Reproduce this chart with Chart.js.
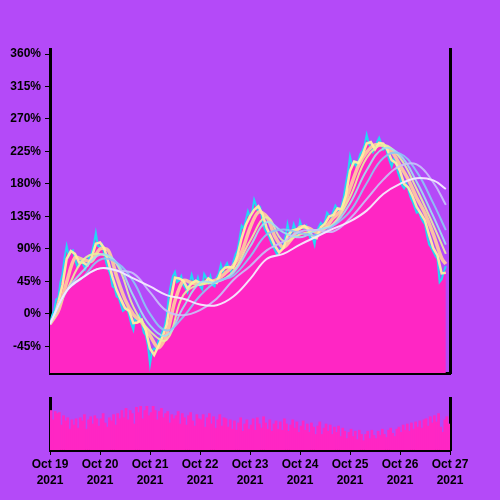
<!DOCTYPE html>
<html>
<head>
<meta charset="utf-8">
<script src="https://cdn.jsdelivr.net/npm/chart.js@4.4.1/dist/chart.umd.min.js"></script>
<style>
  body { margin: 0; background: #b44af8; }
  canvas { position: absolute; left: 0; }
  #priceChart { top: 0; }
  #volumeChart { top: 380px; }
</style>
</head>
<body>
<canvas id="priceChart" width="500" height="380"></canvas>
<canvas id="volumeChart" width="500" height="120"></canvas>
<script>
// x values are hours since Oct 19 00:00
const dayLabels = ["Oct 19", "Oct 20", "Oct 21", "Oct 22", "Oct 23", "Oct 24", "Oct 25", "Oct 26", "Oct 27"];
const yearLabel = "2021";
const yTicks = [-45, 0, 45, 90, 135, 180, 225, 270, 315, 360];

// price change %, hourly (hour 0 .. 190)
const price = [
  -14, -2, 5, 20, 22, 44, 55, 78, 94, 80, 86, 88, 76, 66, 70, 76, 68, 62, 70, 80,
  84, 96, 112, 94, 92, 96, 84, 70, 62, 54, 38, 36, 24, 22, 13, 4, 6, 8, -2, -14,
  -22, -4, -10, -2, -12, -26, -30, -44, -70, -52, -48, -50, -38, -34, -24, -18, -4, 24, 40, 52,
  58, 44, 46, 52, 40, 36, 30, 42, 54, 44, 40, 50, 38, 34, 55, 50, 43, 52, 40, 38,
  50, 56, 68, 58, 65, 70, 61, 58, 72, 82, 88, 104, 122, 118, 130, 142, 134, 140, 158, 150,
  140, 146, 128, 118, 112, 108, 100, 94, 88, 82, 86, 92, 94, 106, 124, 110, 112, 124, 116, 110,
  128, 120, 118, 122, 112, 104, 106, 96, 114, 120, 126, 122, 128, 140, 136, 134, 142, 150, 146, 140,
  150, 162, 180, 196, 218, 206, 210, 204, 212, 222, 226, 234, 248, 236, 230, 224, 230, 238, 244, 236,
  228, 232, 222, 212, 204, 214, 210, 196, 188, 178, 174, 180, 172, 162, 156, 148, 140, 142, 134, 128,
  124, 108, 96, 92, 86, 80, 76, 44, 48, 58, 66
];

// short average, every 2 hours (hour 0 .. 190)
const maYellow = [
  -14, -4, 16, 40, 76, 87, 83, 71, 71, 67, 78, 97, 99, 91, 72, 51, 33, 20, 8, 4,
  -13, -12, -8, -23, -48, -57, -45, -32, -15, 20, 50, 49, 46, 35, 42, 46, 43, 42, 49, 45,
  43, 58, 64, 65, 64, 81, 105, 123, 135, 144, 149, 138, 119, 107, 94, 85, 91, 108, 115, 117,
  118, 122, 117, 107, 105, 120, 125, 135, 137, 146, 145, 164, 198, 211, 209, 220, 236, 238, 228, 237,
  236, 227, 213, 209, 198, 180, 175, 163, 148, 139, 129, 109, 91, 81, 56, 57
];

// 4-hour-step average
const fastHours = [0, 4, 8, 12, 16, 20, 24, 28, 32, 36, 40, 44, 48, 52, 56, 60, 64, 68, 72, 76,
  80, 84, 88, 92, 96, 100, 104, 108, 112, 116, 120, 124, 128, 132, 136, 140, 144, 148, 152, 156,
  160, 164, 168, 172, 176, 180, 184, 188, 190];
const maPeach = [-14, 4, 44, 78, 75, 73, 90, 88, 52, 20, -1, -12, -30, -47, -29, 18, 46, 43, 41, 44,
  47, 56, 67, 86, 119, 141, 135, 107, 92, 104, 120, 119, 113, 119, 133, 144, 174, 205, 224, 234,
  233, 225, 206, 186, 161, 139, 110, 77, 69];

// slower averages, every 8 hours
const slowHours = [0, 8, 16, 24, 32, 40, 48, 56, 64, 72, 80, 88, 96, 104, 112, 120, 128, 136,
  144, 152, 160, 168, 176, 184, 190];
const maGreen = [-14, 32, 75, 83, 69, 10, -24, -36, 26, 41, 44, 59, 101, 134, 101, 110, 116, 125,
  162, 216, 234, 216, 173, 123, 83];
const maPaleBlue = [-14, 32, 60, 82, 71, 25, -16, -30, 9, 43, 44, 57, 93, 127, 113, 106, 116, 123,
  153, 199, 229, 220, 183, 135, 96];
const maBlue = [-14, 32, 51, 75, 71, 45, 0, -23, -4, 25, 45, 53, 79, 110, 117, 112, 109, 122,
  142, 181, 216, 222, 197, 153, 116];
const maLavender = [-14, 32, 51, 63, 60, 56, 30, 4, -2, 5, 21, 47, 66, 88, 100, 114, 116, 114,
  132, 159, 186, 205, 207, 182, 151];
const maWhite = [-14, 32, 51, 63, 60, 49, 38, 26, 21, 13, 12, 24, 48, 76, 83, 96, 107, 118,
  128, 143, 166, 180, 188, 185, 173];

// volume, hourly
const volume = [
  76, 58, 74, 70, 72, 48, 66, 56, 62, 40, 58, 48,
  60, 42, 62, 56, 68, 40, 58, 64, 50, 66, 60, 46,
  60, 70, 52, 44, 62, 56, 68, 48, 70, 60, 76, 62,
  80, 58, 76, 70, 50, 82, 72, 84, 60, 76, 84, 66,
  72, 84, 76, 58, 74, 80, 62, 70, 74, 52, 68, 60,
  66, 74, 50, 70, 62, 48, 66, 72, 56, 46, 68, 60,
  58, 68, 44, 62, 70, 50, 64, 42, 58, 68, 46, 62,
  60, 44, 58, 40, 56, 38, 52, 62, 36, 50, 58, 40,
  48, 60, 38, 62, 50, 42, 64, 52, 40, 58, 36, 50,
  56, 40, 54, 38, 60, 50, 36, 48, 58, 42, 54, 34,
  46, 56, 38, 50, 34, 52, 44, 30, 46, 54, 30, 42,
  50, 36, 48, 30, 44, 34, 46, 26, 42, 36, 22, 34,
  40, 26, 36, 20, 38, 30, 18, 30, 36, 22, 38, 28,
  22, 36, 28, 40, 30, 24, 38, 42, 32, 26, 40, 44,
  34, 48, 38, 50, 36, 52, 40, 54, 44, 56, 42, 58,
  60, 46, 64, 52, 66, 54, 70, 44, 34, 58, 64, 50
];

const PINK = "#ff26c4";
Chart.defaults.font.family = "'Liberation Sans', Arial, sans-serif";
Chart.defaults.font.size = 12;
Chart.defaults.font.weight = "bold";
Chart.defaults.color = "#000";

function pts(xs, ys) {
  return ys.map((y, i) => ({ x: xs[i], y: y }));
}

function maLine(data, color, width, order, tension) {
  return {
    data: data,
    borderColor: color,
    borderWidth: width,
    pointRadius: 0,
    tension: tension,
    fill: false,
    order: order,
  };
}

// fixed axis sizes so both panels share the same plot box
function fixWidth(w) {
  return function (scale) {
    scale.width = w;
    scale.paddingTop = 0;
    scale.paddingBottom = 0;
  };
}
function fixHeight(h) {
  return function (scale) {
    scale.height = h;
    scale.paddingLeft = 0;
    scale.paddingRight = 0;
  };
}

const frame = { display: true, color: "#000", width: 3 };

new Chart(document.getElementById("priceChart"), {
  type: "line",
  data: {
    datasets: [
      {
        data: price.map((v, i) => ({ x: i, y: v })),
        borderColor: "#22d8f4",
        borderWidth: 2,
        backgroundColor: PINK,
        pointRadius: 0,
        tension: 0,
        fill: "start",
        order: 10,
      },
      maLine(pts(fastHours, maPeach), "rgba(255,200,160,0.95)", 3.5, 9, 0.3),
      maLine(maYellow.map((v, i) => ({ x: i * 2, y: v })), "rgba(255,240,160,0.95)", 2.5, 8, 0),
      maLine(pts(slowHours, maGreen), "rgba(232,240,160,0.9)", 2, 7, 0.4),
      maLine(pts(slowHours, maPaleBlue), "rgba(160,225,240,0.9)", 2, 6, 0.4),
      maLine(pts(slowHours, maBlue), "rgba(140,200,245,0.9)", 2, 5, 0.4),
      maLine(pts(slowHours, maLavender), "rgba(200,195,250,0.9)", 2, 4, 0.4),
      maLine(pts(slowHours, maWhite), "rgba(245,235,255,0.95)", 2, 3, 0.4),
    ],
  },
  options: {
    responsive: false,
    animation: false,
    layout: { padding: { top: 49, right: 50, bottom: 7, left: 0 } },
    plugins: { legend: { display: false }, tooltip: { enabled: false } },
    scales: {
      x: {
        type: "linear",
        min: 0,
        max: 192,
        ticks: { display: false },
        grid: { display: false },
        border: frame,
        afterFit: fixHeight(0),
      },
      y: {
        min: -82,
        max: 367,
        afterBuildTicks: function (scale) {
          scale.ticks = yTicks.map((v) => ({ value: v }));
        },
        ticks: {
          padding: 4,
          callback: function (v) { return v + "%"; },
        },
        grid: { drawOnChartArea: false, drawTicks: true, tickLength: 5, color: "#000" },
        border: frame,
        afterFit: fixWidth(50),
      },
      y2: {
        position: "right",
        min: -82,
        max: 367,
        ticks: { display: false },
        grid: { display: false },
        border: frame,
        afterFit: fixWidth(0),
      },
    },
  },
});

new Chart(document.getElementById("volumeChart"), {
  type: "bar",
  data: {
    datasets: [
      {
        data: volume.map((v, i) => ({ x: i + 0.5, y: v })),
        backgroundColor: PINK,
        borderWidth: 0,
        barPercentage: 1,
        categoryPercentage: 1,
      },
    ],
  },
  options: {
    responsive: false,
    animation: false,
    layout: { padding: { top: 18, right: 50, bottom: 0, left: 0 } },
    plugins: { legend: { display: false }, tooltip: { enabled: false } },
    scales: {
      x: {
        type: "linear",
        offset: false,
        min: 0,
        max: 192,
        ticks: {
          stepSize: 24,
          padding: 2,
          maxRotation: 0,
          autoSkip: false,
          font: { size: 12, lineHeight: 1.3 },
          callback: function (v) { return [dayLabels[v / 24], yearLabel]; },
        },
        grid: { drawOnChartArea: false, drawTicks: true, tickLength: 5, color: "#000", offset: false },
        border: frame,
        afterFit: fixHeight(50),
      },
      y: {
        min: 0,
        max: 100,
        ticks: { display: false },
        grid: { display: false },
        border: frame,
        afterFit: fixWidth(50),
      },
      y2: {
        position: "right",
        min: 0,
        max: 100,
        ticks: { display: false },
        grid: { display: false },
        border: frame,
        afterFit: fixWidth(0),
      },
    },
  },
});
</script>
</body>
</html>
